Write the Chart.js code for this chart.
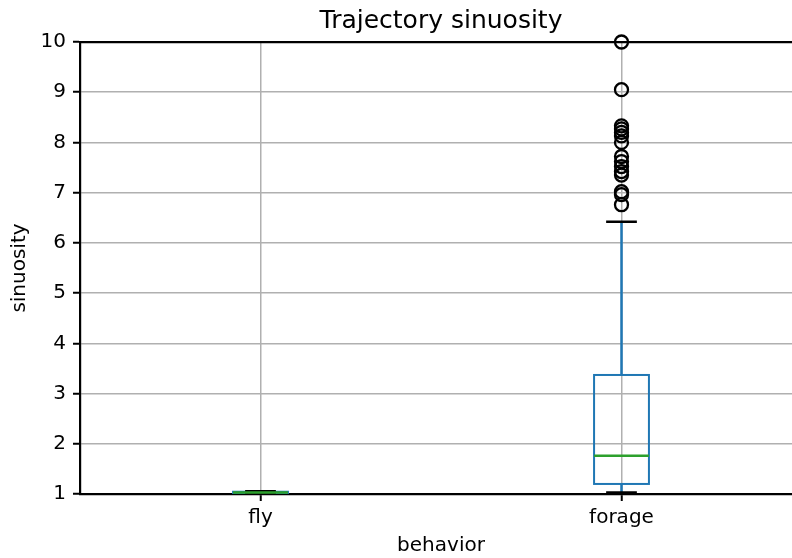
<!DOCTYPE html>
<html>
<head>
<meta charset="utf-8">
<script src="https://cdn.jsdelivr.net/npm/chart.js@4"></script>
<style>
  html, body { margin: 0; padding: 0; background: #fff; overflow: hidden; }
</style>
</head>
<body>
<canvas id="grafico" width="812" height="558"></canvas>
<script>
// dados
const categories = ['fly', 'forage'];
const whiskerLow = [1.01, 1.03];
const q1 = [1.02, 1.20];
const median = [1.03, 1.76];
const q3 = [1.045, 3.37];
const whiskerHigh = [1.055, 6.42];
const forageOutliers = [10.0, 9.05, 8.33, 8.27, 8.2, 8.13, 8.0, 7.72, 7.62, 7.52, 7.42, 7.35, 7.02, 6.96, 6.76];
const yTicks = [1, 2, 3, 4, 5, 6, 7, 8, 9, 10];

Chart.defaults.font.family = 'DejaVu Sans';
Chart.defaults.color = '#000';

// desenha caixas, bigodes e medianas usando as escalas do gráfico
const boxPlugin = {
  id: 'boxes',
  beforeDatasetsDraw(chart) {
    const { ctx, scales: { x, y } } = chart;
    const step = x.getPixelForValue(1) - x.getPixelForValue(0);
    const hw = step * 0.076;
    const cw = hw * 0.56;
    ctx.save();
    categories.forEach((c, i) => {
      const cx = x.getPixelForValue(i);
      // bigodes
      ctx.strokeStyle = '#1f77b4';
      ctx.lineWidth = 2.5;
      ctx.beginPath();
      ctx.moveTo(cx, y.getPixelForValue(q3[i]));
      ctx.lineTo(cx, y.getPixelForValue(whiskerHigh[i]));
      ctx.moveTo(cx, y.getPixelForValue(q1[i]));
      ctx.lineTo(cx, y.getPixelForValue(whiskerLow[i]));
      ctx.stroke();
      // caixa
      ctx.lineWidth = 2;
      const top = y.getPixelForValue(q3[i]);
      const bot = y.getPixelForValue(q1[i]);
      ctx.strokeRect(cx - hw, top, hw * 2, bot - top);
      // tampas
      ctx.strokeStyle = '#000';
      ctx.lineWidth = 2.5;
      ctx.beginPath();
      ctx.moveTo(cx - cw, y.getPixelForValue(whiskerHigh[i]));
      ctx.lineTo(cx + cw, y.getPixelForValue(whiskerHigh[i]));
      ctx.moveTo(cx - cw, y.getPixelForValue(whiskerLow[i]));
      ctx.lineTo(cx + cw, y.getPixelForValue(whiskerLow[i]));
      ctx.stroke();
      // mediana
      ctx.strokeStyle = '#2ca02c';
      ctx.lineWidth = 2.5;
      ctx.beginPath();
      ctx.moveTo(cx - hw, y.getPixelForValue(median[i]));
      ctx.lineTo(cx + hw, y.getPixelForValue(median[i]));
      ctx.stroke();
    });
    ctx.restore();
  }
};

const ctx = document.getElementById('grafico').getContext('2d');
new Chart(ctx, {
  type: 'line',
  data: {
    labels: categories,
    datasets: [{
      label: 'outliers',
      data: forageOutliers.map(v => ({ x: 'forage', y: v })),
      showLine: false,
      pointStyle: 'circle',
      pointRadius: 6.5,
      pointHoverRadius: 6.5,
      pointBorderWidth: 2.3,
      borderColor: '#000',
      backgroundColor: 'rgba(0,0,0,0)',
      clip: false
    }]
  },
  options: {
    responsive: false,
    animation: false,
    layout: { padding: { right: 10 } },
    plugins: {
      legend: { display: false },
      tooltip: { enabled: false }
    },
    scales: {
      x: {
        type: 'category',
        position: 'bottom',
        offset: true,
        grid: { offset: false, color: '#b0b0b0', lineWidth: 1.5, tickColor: '#000', tickWidth: 2, tickLength: 7 },
        border: { color: '#000', width: 2.2 },
        ticks: { font: { size: 20 }, padding: 5, color: '#000' },
        title: { display: true, text: 'behavior', font: { size: 20 }, padding: { top: 0, bottom: 0 } },
        afterFit(scale) { scale.height = 64; }
      },
      top: {
        type: 'category',
        position: 'top',
        offset: true,
        grid: { display: false },
        border: { display: true, color: '#000', width: 2.2 },
        ticks: { display: false },
        title: { display: true, text: 'Trajectory sinuosity', font: { size: 25 }, padding: { top: 6, bottom: 0 } },
        afterFit(scale) { scale.height = 42; }
      },
      y: {
        min: 1,
        max: 10,
        afterBuildTicks(scale) { scale.ticks = yTicks.map(v => ({ value: v })); },
        grid: { color: '#b0b0b0', lineWidth: 1.5, tickColor: '#000', tickWidth: 2, tickLength: 7 },
        border: { color: '#000', width: 2.2 },
        ticks: { font: { size: 20 }, padding: 7, color: '#000' },
        title: { display: true, text: 'sinuosity', font: { size: 20 }, padding: { top: 8, bottom: 0 } },
        afterFit(scale) { scale.width = 80; }
      }
    }
  },
  plugins: [boxPlugin]
});
</script>
</body>
</html>
